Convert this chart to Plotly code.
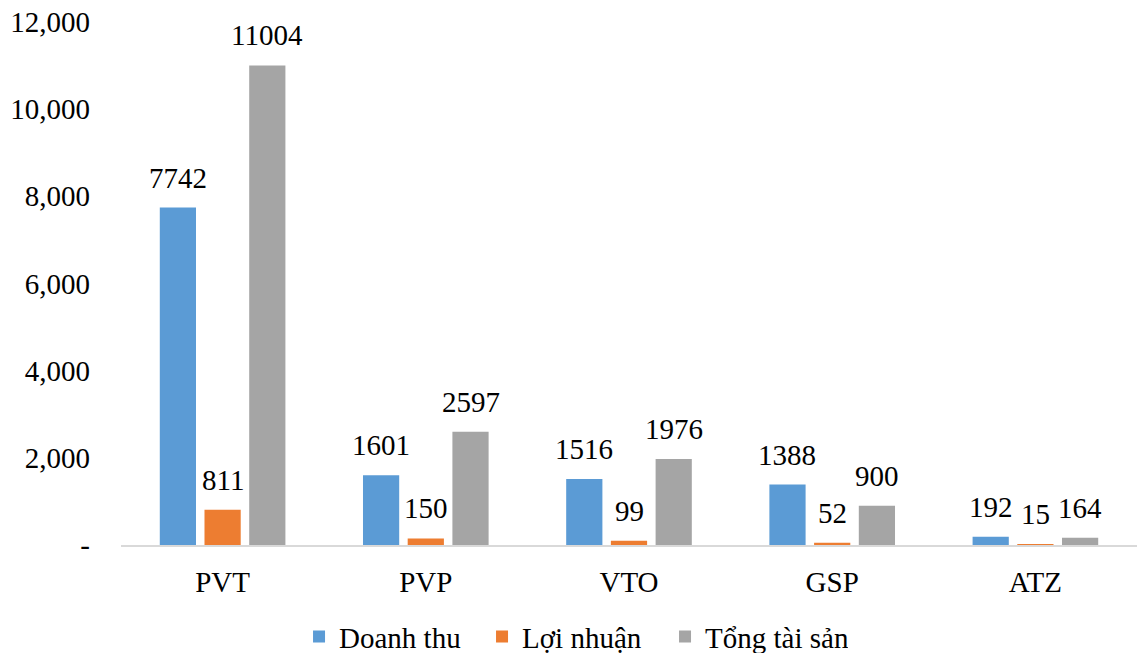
import plotly.graph_objects as go

categories = ["PVT", "PVP", "VTO", "GSP", "ATZ"]
doanh_thu = [7742, 1601, 1516, 1388, 192]
loi_nhuan = [811, 150, 99, 52, 15]
tong_tai_san = [11004, 2597, 1976, 900, 164]
series_names = ["Doanh thu", "Lợi nhuận", "Tổng tài sản"]
colors = ["#5B9BD5", "#ED7D31", "#A5A5A5"]
tick_vals = [0, 2000, 4000, 6000, 8000, 10000, 12000]
tick_text = ["-", "2,000", "4,000", "6,000", "8,000", "10,000", "12,000"]

font = "Liberation Serif, Times New Roman, serif"
FS = 29

W, H = 1137, 653
ML, MR, MT, MB = 121, 0, 22, 108
bargap = 0.34
bargroupgap = 0.19

fig = go.Figure()
all_series = [doanh_thu, loi_nhuan, tong_tai_san]
for name, vals, c in zip(series_names, all_series, colors):
    fig.add_trace(go.Bar(
        x=categories, y=vals, name=name, marker_color=c, marker_line_width=0,
    ))

# data labels via annotations, shifted to each bar's slot
plot_w = W - ML - MR
cat_w = plot_w / len(categories)
slot = cat_w * (1 - bargap) / len(all_series)
annotations = []
for i, vals in enumerate(all_series):
    shift = (i - (len(all_series) - 1) / 2) * slot
    for cat, v in zip(categories, vals):
        annotations.append(dict(
            x=cat, y=v, xref="x", yref="y", text=str(v), showarrow=False,
            xshift=shift, yshift=12, yanchor="bottom", xanchor="center",
            font=dict(family=font, size=FS, color="black"),
        ))

fig.update_layout(
    width=W, height=H,
    margin=dict(l=ML, r=MR, t=MT, b=MB),
    paper_bgcolor="white", plot_bgcolor="white",
    barmode="group", bargap=bargap, bargroupgap=bargroupgap,
    font=dict(family=font, size=FS, color="black"),
    showlegend=True,
    legend=dict(orientation="h", xref="container", yref="container",
                x=0.263, xanchor="left", y=0.025, yanchor="middle",
                entrywidth=138, entrywidthmode="pixels",
                font=dict(family=font, size=FS), traceorder="normal"),
    xaxis=dict(showline=True, linecolor="#D9D9D9", linewidth=2, ticks="",
               tickfont=dict(family=font, size=FS), showgrid=False,
               automargin=False, ticklabelstandoff=10),
    yaxis=dict(range=[0, 12000], tickvals=tick_vals, ticktext=tick_text,
               showgrid=False, zeroline=False, showline=False, ticks="",
               ticklabelstandoff=30, automargin=False,
               tickfont=dict(family=font, size=FS)),
    annotations=annotations,
)

fig.write_html("out.html", config={"displayModeBar": False},
               post_script="document.body.style.margin='0';document.body.style.overflow='hidden';")
